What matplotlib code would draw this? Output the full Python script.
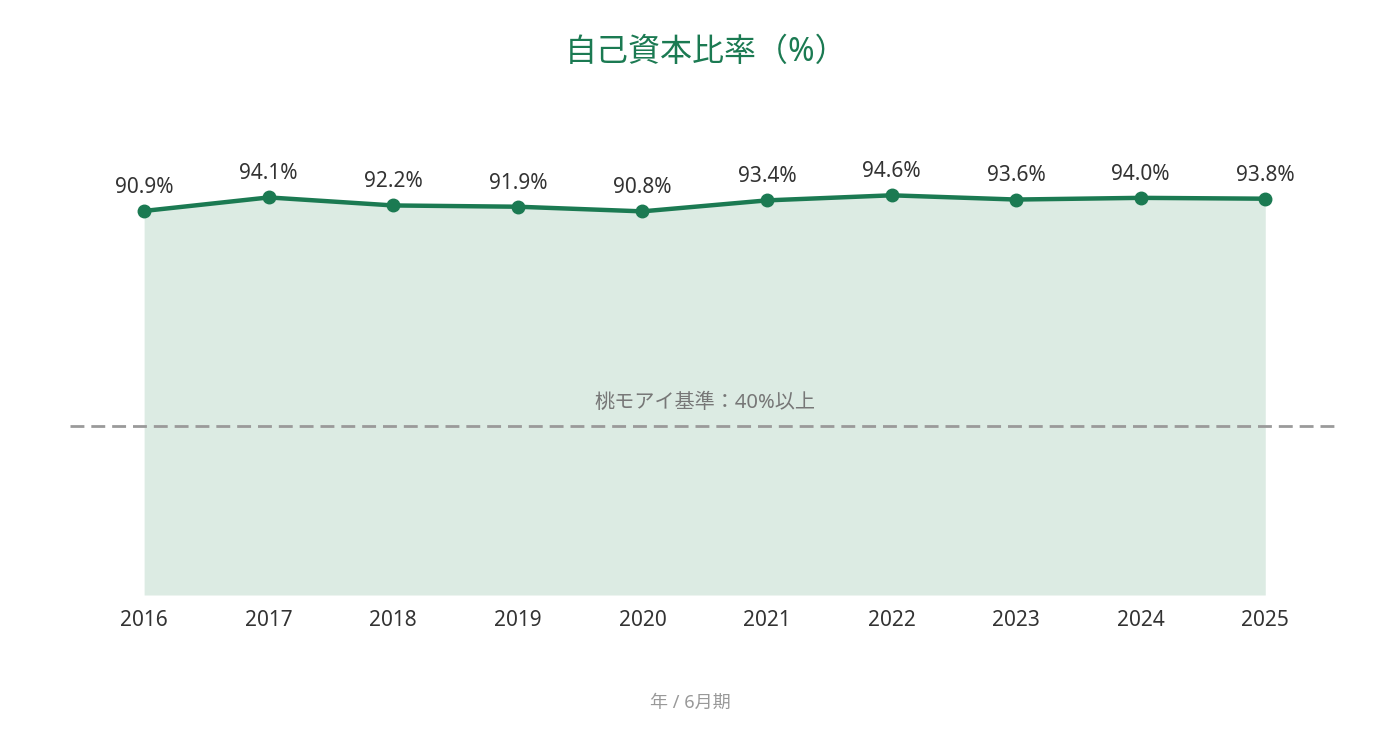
import numpy as np
import matplotlib
matplotlib.use("Agg")
from matplotlib import pyplot as plt

plt.rcParams['font.family'] = ['Noto Sans', 'Noto Sans CJK JP', 'DejaVu Sans']

years = [2016, 2017, 2018, 2019, 2020, 2021, 2022, 2023, 2024, 2025]
ratio = [90.9, 94.1, 92.2, 91.9, 90.8, 93.4, 94.6, 93.6, 94.0, 93.8]
baseline = 40
baseline_label = "桃モアイ基準：40%以上"
title = "自己資本比率（%）"
xlabel = "年 / 6月期"

green = "#1b7a52"
fill_green = "#dcebe3"

fig = plt.figure(figsize=(13.8, 7.35), dpi=100)
ax = fig.add_axes([70/1380, 1-595/735, 1270/1380, (595-172.5)/735])

ax.fill_between(years, 0, ratio, color=fill_green, lw=0, zorder=1)
ax.axhline(baseline, color="#9a9a9a", lw=2, ls=(0, (5, 2.5)), zorder=2)
ax.plot(years, ratio, color=green, lw=3.2, marker="o", ms=9, zorder=3)

for x, v in zip(years, ratio):
    ax.annotate(f"{v:.1f}%", (x, v), xytext=(0, 9.5), textcoords="offset points",
                ha="center", va="bottom", fontsize=15, color="#333333")

ax.text(2020.5, baseline + 3.0, baseline_label, ha="center", va="bottom",
        fontsize=14.5, color="#777777")

ax.set_xlim(2015.405, 2025.6)
ax.set_ylim(0, 100)
ax.set_xticks(years)
ax.set_xticklabels([str(y) for y in years], fontsize=15, color="#333333")
ax.tick_params(axis="x", length=0, pad=11)
ax.set_yticks([])
for spine in ax.spines.values():
    spine.set_visible(False)

fig.text(0.512, 1-52/735, title, ha="center", va="center", fontsize=23, color=green)
fig.text(0.5, 1-703/735, xlabel, ha="center", va="center", fontsize=13, color="#999999")

fig.savefig("out.png", dpi=100)
